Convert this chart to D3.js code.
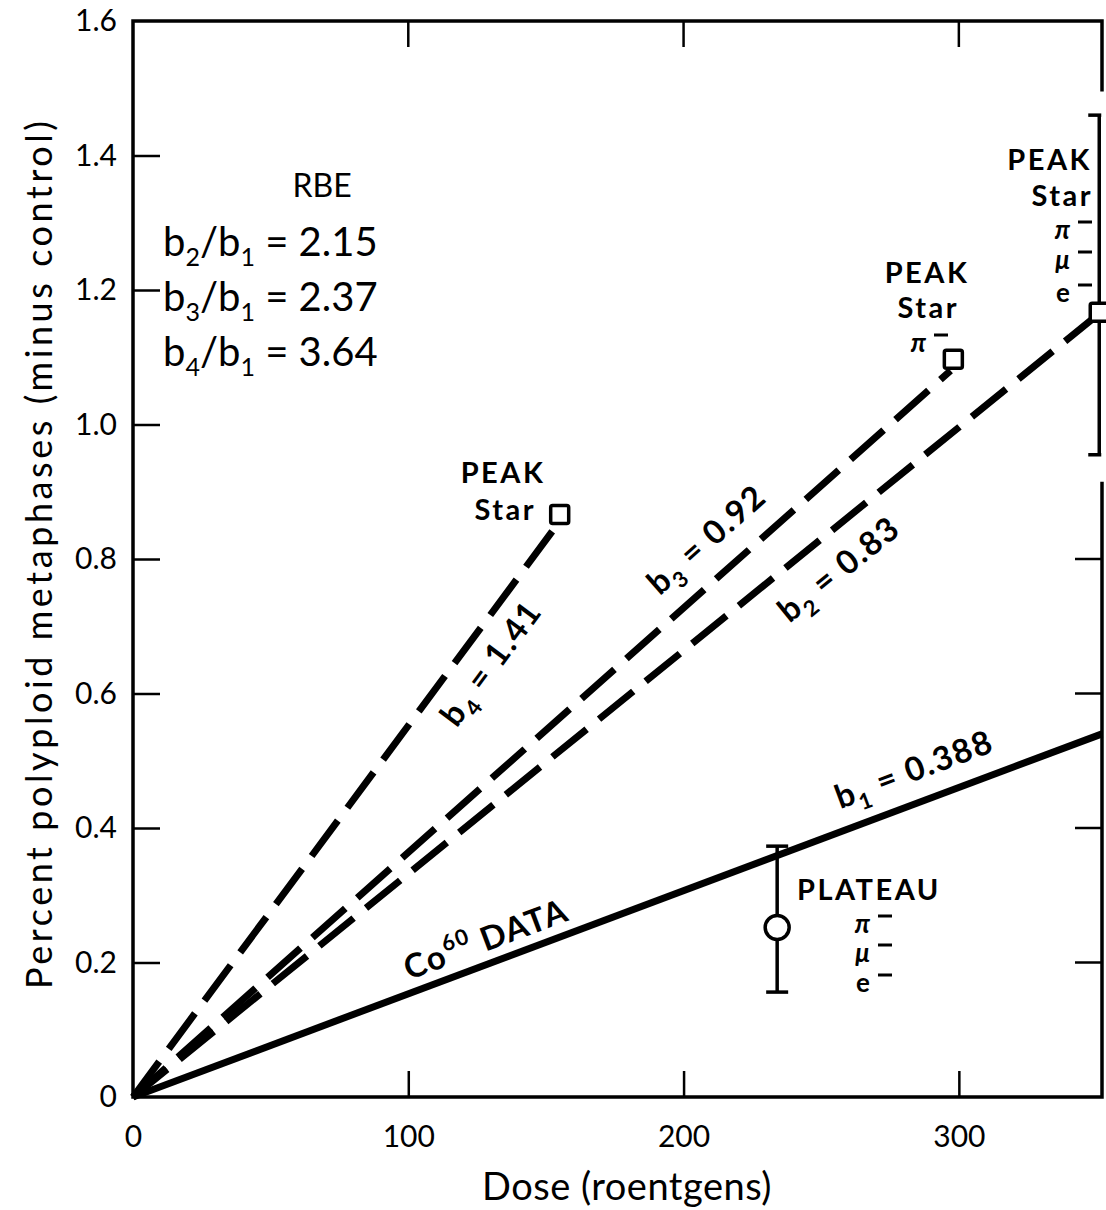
<!DOCTYPE html>
<html>
<head>
<meta charset="utf-8">
<script src="https://cdn.jsdelivr.net/npm/d3@7"></script>
<style>
  body { margin: 0; background: #fff; }
  text { font-family: Lato, "Noto Sans", sans-serif; fill: #000; }
</style>
</head>
<body>
<div id="chart"></div>
<script>
// tick values
var xTicks = [0, 100, 200, 300];
var yTicks = [0, 0.2, 0.4, 0.6, 0.8, 1.0, 1.2, 1.4, 1.6];
var rightTicks = [0.2, 0.4, 0.6, 0.8];

// fitted lines from the origin
var lineNames = ["b1", "b2", "b3", "b4"];
var lineEndX = [352, 351, 297, 153];
var lineEndY = [0.54, 1.165, 1.08, 0.845];
var lineDashed = [false, true, true, true];

// measured points
var pointName = ["plateau", "peak1", "peak2", "peak3"];
var pointX = [234, 155, 298, 351];
var pointY = [0.252, 0.866, 1.097, 1.167];
var pointLo = [0.156, null, null, 0.955];
var pointHi = [0.373, null, null, 1.46];
var pointShape = ["circle", "square", "square", "square"];

var W = 1106, H = 1210;
var x0 = 133, x1 = 1102, y0 = 1097, y1 = 21;

var svg = d3.select("#chart").append("svg")
    .attr("width", W).attr("height", H);

var x = d3.scaleLinear().domain([0, 352]).range([x0, x1]);
var y = d3.scaleLinear().domain([0, 1.6]).range([y0, y1]);

// axes, ticks pointing inward
var xAxis = d3.axisBottom(x).tickValues(xTicks).tickSize(-26).tickPadding(29)
    .tickFormat(d3.format("d"));
var gx = svg.append("g").attr("transform", "translate(0," + y0 + ")").call(xAxis);
var yAxis = d3.axisLeft(y).tickValues(yTicks).tickSize(-27).tickPadding(16)
    .tickFormat(function(d) { return d == 0 ? "0" : d3.format(".1f")(d); });
var gy = svg.append("g").attr("transform", "translate(" + x0 + ",0)").call(yAxis);
[gx, gy].forEach(function(g) {
  g.select(".domain").remove();
  g.selectAll(".tick line").attr("stroke", "#000").attr("stroke-width", 2.5);
  g.selectAll(".tick text").style("font-size", "30px").style("font-family", "Lato, sans-serif");
});
gx.selectAll(".tick").filter(function(d) { return d == 0; }).select("line").remove();
gy.selectAll(".tick").filter(function(d) { return d == 0 || d == 1.6; }).select("line").remove();

// mirrored ticks on top and right
svg.append("g").selectAll("line").data(xTicks.slice(1)).enter().append("line")
  .attr("x1", function(d) { return x(d); }).attr("x2", function(d) { return x(d); })
  .attr("y1", y1).attr("y2", y1 + 26).attr("stroke", "#000").attr("stroke-width", 2.5);
svg.append("g").selectAll("line").data(rightTicks).enter().append("line")
  .attr("x1", x1 - 27).attr("x2", x1)
  .attr("y1", function(d) { return y(d); }).attr("y2", function(d) { return y(d); })
  .attr("stroke", "#000").attr("stroke-width", 2.5);

// frame, right side broken around the top error bar
var frame = d3.path();
frame.moveTo(x1, y(1.495)); frame.lineTo(x1, y1); frame.lineTo(x0, y1);
frame.lineTo(x0, y0); frame.lineTo(x1, y0); frame.lineTo(x1, y(0.915));
svg.append("path").attr("d", frame.toString()).attr("fill", "none")
  .attr("stroke", "#000").attr("stroke-width", 3.5);

// fitted lines
lineNames.forEach(function(n, i) {
  svg.append("line")
    .attr("x1", x(0)).attr("y1", y(0))
    .attr("x2", x(lineEndX[i])).attr("y2", y(lineEndY[i]))
    .attr("stroke", "#000").attr("stroke-width", 7)
    .attr("stroke-dasharray", lineDashed[i] ? "44,16" : null);
});

// error bars and markers
pointName.forEach(function(n, i) {
  var px = x(pointX[i]);
  if (pointLo[i] != null) {
    svg.append("line").attr("x1", px).attr("x2", px)
      .attr("y1", y(pointLo[i])).attr("y2", y(pointHi[i]))
      .attr("stroke", "#000").attr("stroke-width", 3.5);
    var cl = px - 11, cr = n == "peak3" ? px + 2 : px + 11;
    [pointLo[i], pointHi[i]].forEach(function(v) {
      svg.append("line").attr("x1", cl).attr("x2", cr)
        .attr("y1", y(v)).attr("y2", y(v))
        .attr("stroke", "#000").attr("stroke-width", 3.5);
    });
  }
  if (pointShape[i] == "circle") {
    svg.append("circle").attr("cx", px).attr("cy", y(pointY[i])).attr("r", 12)
      .attr("fill", "#fff").attr("stroke", "#000").attr("stroke-width", 3.5);
  } else {
    svg.append("rect").attr("x", px - 9).attr("y", y(pointY[i]) - 9)
      .attr("width", 18).attr("height", 18).attr("rx", 2)
      .attr("fill", "#fff").attr("stroke", "#000").attr("stroke-width", 3.5);
  }
});

// axis titles
svg.append("text").attr("x", 627).attr("y", 1200).attr("text-anchor", "middle")
  .style("font-size", "38px").style("letter-spacing", "0.5px").text("Dose (roentgens)");
svg.append("text").attr("transform", "translate(52,555) rotate(-90)")
  .attr("text-anchor", "middle").style("font-size", "36px")
  .attr("textLength", 868).attr("lengthAdjust", "spacing")
  .text("Percent polyploid metaphases (minus control)");

// RBE block
svg.append("text").attr("x", 322).attr("y", 197).attr("text-anchor", "middle")
  .style("font-size", "32px").text("RBE");
function ratio(yy, num, val) {
  var t = svg.append("text").attr("x", 163).attr("y", yy).style("font-size", "40px");
  t.append("tspan").text("b");
  t.append("tspan").attr("dy", 10).style("font-size", "25px").text(num);
  t.append("tspan").attr("dy", -10).text("/b");
  t.append("tspan").attr("dy", 10).style("font-size", "25px").text("1");
  t.append("tspan").attr("dy", -10).text(" = " + val);
}
ratio(256, "2", "2.15");
ratio(311, "3", "2.37");
ratio(366, "4", "3.64");

// bold annotations
function bold(tx, ty, s, anchor, size) {
  return svg.append("text").attr("x", tx).attr("y", ty)
    .attr("text-anchor", anchor || "middle")
    .style("font-size", (size || 29) + "px").style("font-weight", "bold")
    .style("letter-spacing", "2.5px").text(s);
}
function particle(sx, sy, sym, italic) {
  svg.append("text").attr("x", sx).attr("y", sy).attr("text-anchor", "end")
    .style("font-size", "26px").style("font-weight", "bold")
    .style("font-style", italic ? "italic" : "normal").text(sym);
  svg.append("line").attr("x1", sx + 8).attr("x2", sx + 22)
    .attr("y1", sy - 17).attr("y2", sy - 17)
    .attr("stroke", "#000").attr("stroke-width", 3);
}

bold(503, 483, "PEAK");
bold(536, 520, "Star", "end");

bold(927, 283, "PEAK");
bold(959, 318, "Star", "end");
particle(926, 352, "\u03c0", true);

bold(1092, 170, "PEAK", "end");
bold(1093, 206, "Star", "end");
particle(1070, 239, "\u03c0", true);
particle(1070, 269, "\u03bc", true);
particle(1070, 302, "e", false);

bold(797, 900, "PLATEAU", "start");
particle(870, 933, "\u03c0", true);
particle(870, 962, "\u03bc", true);
particle(870, 992, "e", false);

// labels that follow the lines
function angleOf(i) {
  return Math.atan2(y(lineEndY[i]) - y(0), x(lineEndX[i]) - x(0)) * 180 / Math.PI;
}
function lineLabel(cx, cy, i, sub, rest) {
  var t = svg.append("text")
    .attr("transform", "translate(" + cx + "," + cy + ") rotate(" + angleOf(i) + ")")
    .attr("text-anchor", "middle").style("font-size", "33px").style("font-weight", "bold")
    .style("letter-spacing", "1.5px");
  t.append("tspan").text("b");
  t.append("tspan").attr("dy", 9).style("font-size", "22px").text(sub);
  t.append("tspan").attr("dy", -9).text(" = " + rest);
}
lineLabel(500, 670, 3, "4", "1.41");
lineLabel(714, 548, 2, "3", "0.92");
lineLabel(846, 578, 1, "2", "0.83");
lineLabel(918, 780, 0, "1", "0.388");

var co = svg.append("text")
  .attr("transform", "translate(490,950) rotate(" + angleOf(0) + ")")
  .attr("text-anchor", "middle").style("font-size", "33px").style("font-weight", "bold")
  .style("letter-spacing", "1.5px");
co.append("tspan").text("Co");
co.append("tspan").attr("dy", -14).style("font-size", "22px").text("60");
co.append("tspan").attr("dy", 14).text(" DATA");
</script>
</body>
</html>
